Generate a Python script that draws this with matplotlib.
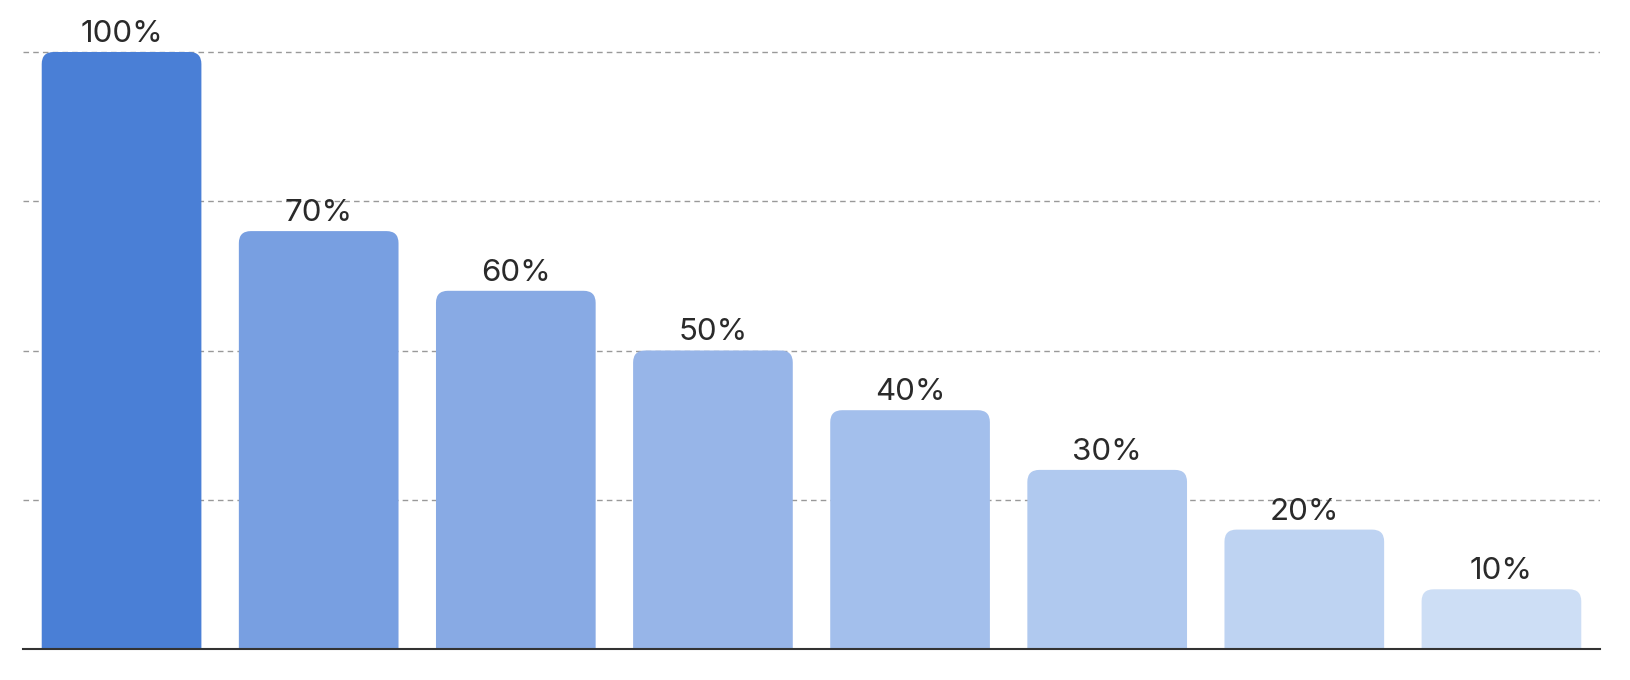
import matplotlib
matplotlib.use("Agg")
import matplotlib.pyplot as plt
from matplotlib.patches import FancyBboxPatch

categories = ["A", "B", "C", "D", "E", "F", "G", "H"]
values = [100, 70, 60, 50, 40, 30, 20, 10]
labels = ["100%", "70%", "60%", "50%", "40%", "30%", "20%", "10%"]
colors = ["#4A7FD6", "#789FE1", "#88AAE4", "#97B5E8", "#A3BFEC", "#B0C9EF", "#BED3F2", "#CDDEF5"]
grid_values = [25, 50, 75, 100]

plt.rcParams['font.family'] = ['Inter', 'DejaVu Sans']

W, H = 1630, 680
fig = plt.figure(figsize=(W / 100, H / 100), dpi=100)
left, right, bottom, top = 23 / W, 1600 / W, (H - 649) / H, 1.0
ax = fig.add_axes([left, bottom, right - left, top - bottom])

ymax = 100 * 649 / 597
ax.set_xlim(-0.5, len(categories) - 0.5)
ax.set_ylim(0, ymax)

for g in grid_values:
    ax.axhline(g, color="#999999", lw=1.0, ls=(0, (4, 3)), zorder=0)

bars = ax.bar(range(len(categories)), values, width=0.81, color=colors, zorder=2)

ax_w_px = (right - left) * W
ax_h_px = (top - bottom) * H
x_per_px = len(categories) / ax_w_px
y_per_px = ymax / ax_h_px
r_px = 12
for i, (rect, c) in enumerate(zip(bars, colors)):
    rect.set_visible(False)
    x, w, h = rect.get_x(), rect.get_width(), rect.get_height()
    ext = r_px * 2 * y_per_px
    p = FancyBboxPatch((x, -ext), w, h + ext,
                       boxstyle=f"round,pad=0,rounding_size={r_px * x_per_px}",
                       mutation_aspect=y_per_px / x_per_px,
                       facecolor=c, edgecolor="none", zorder=2, clip_on=True)
    ax.add_patch(p)
    ax.annotate(labels[i], (x + w / 2, h), xytext=(0, 10),
                textcoords="offset pixels", ha="center", va="baseline",
                fontsize=22.5, color="#2a2a2a", zorder=3)

ax.axhline(0, color="#333333", lw=1.5, zorder=4, clip_on=False)
for s in ax.spines.values():
    s.set_visible(False)
ax.set_xticks([])
ax.set_yticks([])

fig.savefig("out.png", dpi=100)
